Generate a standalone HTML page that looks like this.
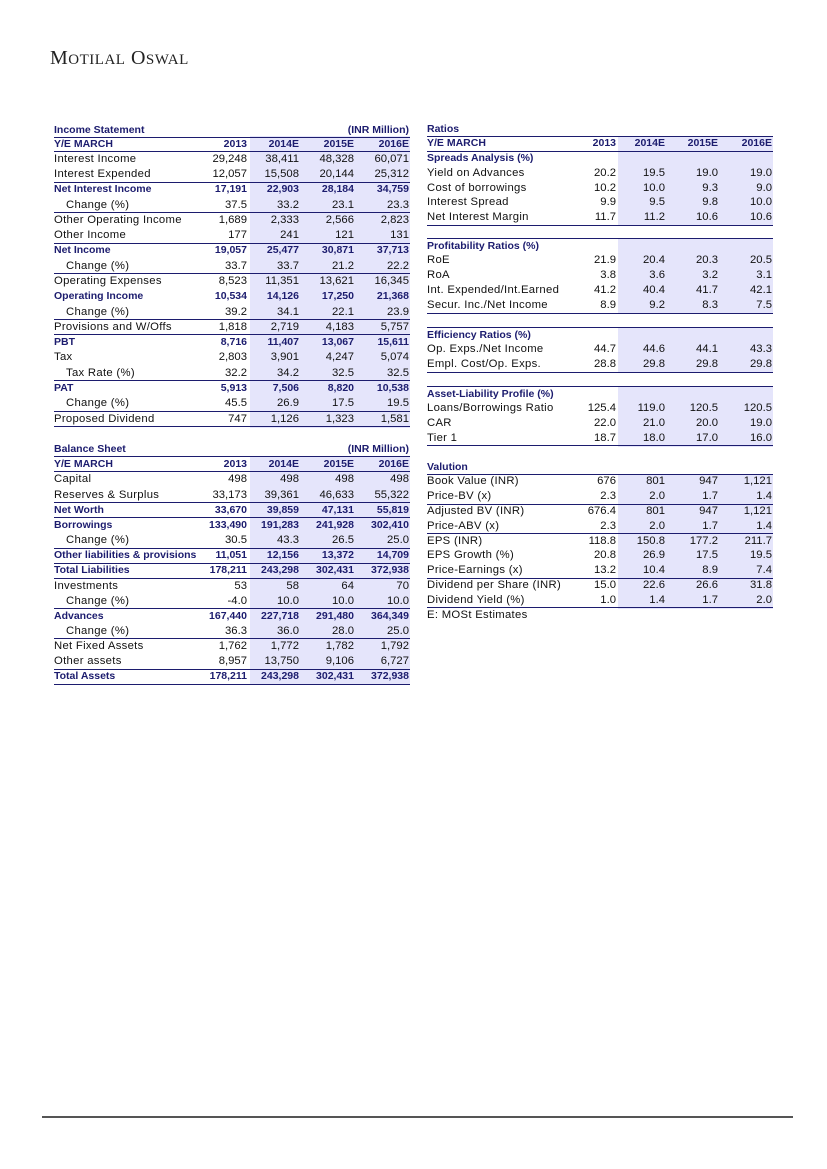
<!DOCTYPE html>
<html><head><meta charset="utf-8"><style>
body{margin:0;width:827px;height:1169px;background:#fff;position:relative;overflow:hidden;font-family:"Liberation Sans",sans-serif}
.logo{position:absolute;left:50px;top:47px;font-family:"Liberation Serif",serif;font-size:20px;color:#222;letter-spacing:0.5px}
.logo small{font-size:15px}
.shade{position:absolute;background:#e5e5fb}
.r{position:absolute;height:15px;font-size:11.3px;line-height:15px;color:#111;white-space:nowrap;letter-spacing:0.3px}
.r span{position:absolute;top:0}
.r .n{text-align:right;width:70px;letter-spacing:0}
.b{color:#1c1c6e;font-weight:bold;font-size:10.5px;letter-spacing:0}
.hl{position:absolute;height:1px;background:#1c1c6e}
</style></head><body>
<div class="logo">M<small>OTILAL</small> O<small>SWAL</small></div>
<div style="position:absolute;left:42px;top:1116px;width:751px;height:2px;background:#555"></div>
<div id="c"></div>
<script>
var c=document.getElementById('c'),h='';
function tbl(x0,x1,cols,shadeL,rows){
 rows.forEach(r=>{
  if(r[7]) h+='<div class="shade" style="left:'+shadeL+'px;top:'+(r[0]-8)+'px;width:'+(x1-shadeL)+'px;height:16.5px"></div>';
 });
 rows.forEach(r=>{
  var y=r[0]-7.5;
  h+='<div class="r'+(r[3]?' b':'')+'" style="left:0;top:'+y+'px;width:827px"><span style="left:'+(x0+(r[4]?12:0))+'px">'+r[1]+'</span>';
  (r[2]||[]).forEach((v,i)=>{h+='<span class="n" style="left:'+(cols[i]-70)+'px">'+v+'</span>';});
  h+='</div>';
  if(r[5]) h+='<div class="hl" style="left:'+x0+'px;width:'+(x1-x0)+'px;top:'+(r[0]+7)+'px"></div>';
  if(r[6]) h+='<div class="hl" style="left:'+x0+'px;width:'+(x1-x0)+'px;top:'+(r[0]-8)+'px"></div>';
 });
}
var L=[247,299,354,409];
var inc=[
[130,'Income Statement',['','','','(INR Million)'],1,0,1,0,0],
[144,'Y/E MARCH',['2013','2014E','2015E','2016E'],1,0,1,0,1],
['Interest Income',['29,248','38,411','48,328','60,071'],0,0,0],
['Interest Expended',['12,057','15,508','20,144','25,312'],0,0,1],
['Net Interest Income',['17,191','22,903','28,184','34,759'],1,0,0],
['Change (%)',['37.5','33.2','23.1','23.3'],0,1,1],
['Other Operating Income',['1,689','2,333','2,566','2,823'],0,0,0],
['Other Income',['177','241','121','131'],0,0,1],
['Net Income',['19,057','25,477','30,871','37,713'],1,0,0],
['Change (%)',['33.7','33.7','21.2','22.2'],0,1,1],
['Operating Expenses',['8,523','11,351','13,621','16,345'],0,0,0],
['Operating Income',['10,534','14,126','17,250','21,368'],1,0,0],
['Change (%)',['39.2','34.1','22.1','23.9'],0,1,1],
['Provisions and W/Offs',['1,818','2,719','4,183','5,757'],0,0,1],
['PBT',['8,716','11,407','13,067','15,611'],1,0,0],
['Tax',['2,803','3,901','4,247','5,074'],0,0,0],
['Tax Rate (%)',['32.2','34.2','32.5','32.5'],0,1,1],
['PAT',['5,913','7,506','8,820','10,538'],1,0,0],
['Change (%)',['45.5','26.9','17.5','19.5'],0,1,1],
['Proposed Dividend',['747','1,126','1,323','1,581'],0,0,1]];
function build(list,start,step){var out=[];var k=0;list.forEach(r=>{if(typeof r[0]=='number'){out.push(r);}else{k++;out.push([start+k*step,r[0],r[1],r[2],r[3],r[4],0,1]);}});return out;}
tbl(54,410,L,250,build(inc,144,15.28));
var bs=[
[449,'Balance Sheet',['','','','(INR Million)'],1,0,1,0,0],
[464,'Y/E MARCH',['2013','2014E','2015E','2016E'],1,0,1,0,1],
['Capital',['498','498','498','498'],0,0,0],
['Reserves &amp; Surplus',['33,173','39,361','46,633','55,322'],0,0,1],
['Net Worth',['33,670','39,859','47,131','55,819'],1,0,1],
['Borrowings',['133,490','191,283','241,928','302,410'],1,0,0],
['Change (%)',['30.5','43.3','26.5','25.0'],0,1,1],
['Other liabilities &amp; provisions',['11,051','12,156','13,372','14,709'],1,0,1],
['Total Liabilities',['178,211','243,298','302,431','372,938'],1,0,1],
['Investments',['53','58','64','70'],0,0,0],
['Change (%)',['-4.0','10.0','10.0','10.0'],0,1,1],
['Advances',['167,440','227,718','291,480','364,349'],1,0,0],
['Change (%)',['36.3','36.0','28.0','25.0'],0,1,1],
['Net Fixed Assets',['1,762','1,772','1,782','1,792'],0,0,0],
['Other assets',['8,957','13,750','9,106','6,727'],0,0,1],
['Total Assets',['178,211','243,298','302,431','372,938'],1,0,1]];
tbl(54,410,L,250,build(bs,464.8,15.15));
var R=[616,665,718,772];
function sec(list,start,step){var out=[];var k=0;list.forEach(r=>{out.push([start+k*step].concat(r));k++;});return out;}
tbl(427,773,R,618,sec([
['Ratios',null,1,0,1,0,0],
['Y/E MARCH',['2013','2014E','2015E','2016E'],1,0,1,0,1],
['Spreads Analysis (%)',null,1,0,0,0,1],
['Yield on Advances',['20.2','19.5','19.0','19.0'],0,0,0,0,1],
['Cost of borrowings',['10.2','10.0','9.3','9.0'],0,0,0,0,1],
['Interest Spread',['9.9','9.5','9.8','10.0'],0,0,0,0,1],
['Net Interest Margin',['11.7','11.2','10.6','10.6'],0,0,1,0,1]],129,14.75));
tbl(427,773,R,618,sec([
['Profitability Ratios (%)',null,1,0,0,1,1],
['RoE',['21.9','20.4','20.3','20.5'],0,0,0,0,1],
['RoA',['3.8','3.6','3.2','3.1'],0,0,0,0,1],
['Int. Expended/Int.Earned',['41.2','40.4','41.7','42.1'],0,0,0,0,1],
['Secur. Inc./Net Income',['8.9','9.2','8.3','7.5'],0,0,1,0,1]],246,14.9));
tbl(427,773,R,618,sec([
['Efficiency Ratios (%)',null,1,0,0,1,1],
['Op. Exps./Net Income',['44.7','44.6','44.1','43.3'],0,0,0,0,1],
['Empl. Cost/Op. Exps.',['28.8','29.8','29.8','29.8'],0,0,1,0,1]],335,14.9));
tbl(427,773,R,618,sec([
['Asset-Liability Profile (%)',null,1,0,0,1,1],
['Loans/Borrowings Ratio',['125.4','119.0','120.5','120.5'],0,0,0,0,1],
['CAR',['22.0','21.0','20.0','19.0'],0,0,0,0,1],
['Tier 1',['18.7','18.0','17.0','16.0'],0,0,1,0,1]],394,14.7));
tbl(427,773,R,618,sec([
['Valution',null,1,0,1,0,0],
['Book Value (INR)',['676','801','947','1,121'],0,0,0,0,1],
['Price-BV (x)',['2.3','2.0','1.7','1.4'],0,0,1,0,1],
['Adjusted BV (INR)',['676.4','801','947','1,121'],0,0,0,0,1],
['Price-ABV (x)',['2.3','2.0','1.7','1.4'],0,0,1,0,1],
['EPS (INR)',['118.8','150.8','177.2','211.7'],0,0,0,0,1],
['EPS Growth (%)',['20.8','26.9','17.5','19.5'],0,0,0,0,1],
['Price-Earnings (x)',['13.2','10.4','8.9','7.4'],0,0,1,0,1],
['Dividend per Share (INR)',['15.0','22.6','26.6','31.8'],0,0,0,0,1],
['Dividend Yield (%)',['1.0','1.4','1.7','2.0'],0,0,1,0,1],
['E: MOSt Estimates',null,0,0,0,0,0]],467,14.8));
c.innerHTML=h;
</script>
</body></html>
